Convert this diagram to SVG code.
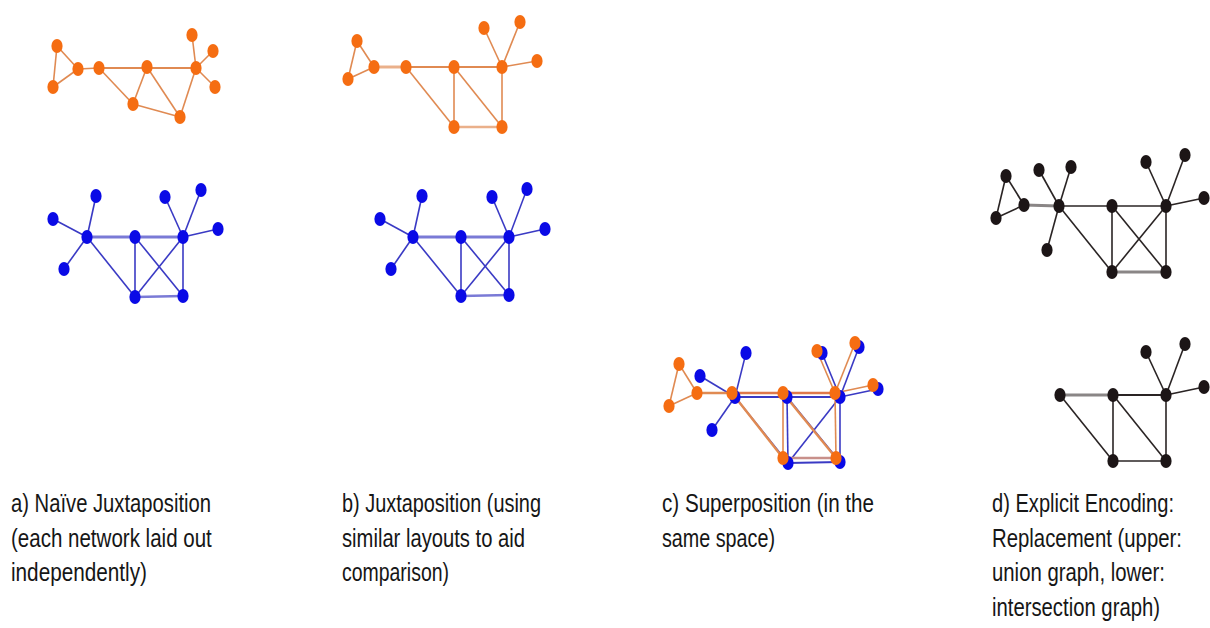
<svg xmlns="http://www.w3.org/2000/svg" width="1210" height="628" viewBox="0 0 1210 628">
<style>
.o{fill:#f56d12}
.b{fill:#0a0ae6}
.k{fill:#1c1516}
.eo{stroke:#e08a52;stroke-width:1.6;fill:none}
.eot{stroke:#eab08a;stroke-width:3;fill:none}
.eb{stroke:#3a3ac4;stroke-width:1.6;fill:none}
.ebt{stroke:#7a7ad6;stroke-width:3.2;fill:none}
.ek{stroke:#2a2424;stroke-width:1.6;fill:none}
.ekt{stroke:#8a8686;stroke-width:3;fill:none}
.lbl{font-family:"Liberation Sans",Arial,Helvetica,sans-serif;font-size:25.5px;fill:#161616}
</style>
<rect width="1210" height="628" fill="#ffffff"/>

<!-- connectors -->
<g id="connectors">
  <!-- panel a orange -->
  <line class="eo" x1="57" y1="46" x2="53" y2="87"/>
  <line class="eo" x1="57" y1="46" x2="78" y2="69"/>
  <line class="eo" x1="53" y1="87" x2="78" y2="69"/>
  <line class="eo" x1="78" y1="69" x2="99" y2="68"/>
  <line class="eo" x1="99" y1="68" x2="196" y2="68" style="stroke-width:2.2"/>
  <line class="eo" x1="99" y1="68" x2="133" y2="104"/>
  <line class="eo" x1="147" y1="67" x2="133" y2="104"/>
  <line class="eo" x1="147" y1="67" x2="180" y2="117"/>
  <line class="eo" x1="133" y1="104" x2="180" y2="117"/>
  <line class="eo" x1="196" y1="68" x2="180" y2="117"/>
  <line class="eo" x1="196" y1="68" x2="192" y2="35"/>
  <line class="eo" x1="196" y1="68" x2="213" y2="51"/>
  <line class="eo" x1="196" y1="68" x2="215" y2="87"/>
  <!-- panel a blue -->
  <line class="eb" x1="53" y1="219" x2="87" y2="237"/>
  <line class="eb" x1="96" y1="196" x2="87" y2="237"/>
  <line class="eb" x1="64" y1="269" x2="87" y2="237"/>
  <line class="ebt" x1="87" y1="237" x2="183" y2="237"/>
  <line class="eb" x1="87" y1="237" x2="135" y2="297"/>
  <line class="eb" x1="135" y1="237" x2="135" y2="297"/>
  <line class="eb" x1="135" y1="237" x2="183" y2="296"/>
  <line class="eb" x1="183" y1="237" x2="135" y2="297"/>
  <line class="eb" x1="183" y1="237" x2="183" y2="296"/>
  <line class="ebt" x1="135" y1="297" x2="183" y2="296" style="stroke-width:2.4"/>
  <line class="eb" x1="183" y1="237" x2="165" y2="197"/>
  <line class="eb" x1="183" y1="237" x2="201" y2="190"/>
  <line class="eb" x1="183" y1="237" x2="218" y2="229"/>
  <!-- panel b orange -->
  <line class="eo" x1="357" y1="41" x2="348" y2="79"/>
  <line class="eo" x1="357" y1="41" x2="374" y2="67"/>
  <line class="eo" x1="348" y1="79" x2="374" y2="67"/>
  <line class="eot" x1="374" y1="67" x2="406" y2="67"/>
  <line class="eo" x1="406" y1="67" x2="502" y2="67" style="stroke-width:2"/>
  <line class="eo" x1="406" y1="67" x2="454" y2="127"/>
  <line class="eo" x1="454" y1="67" x2="454" y2="127"/>
  <line class="eo" x1="454" y1="67" x2="502" y2="127"/>
  <line class="eo" x1="502" y1="67" x2="502" y2="127"/>
  <line class="eot" x1="454" y1="127" x2="502" y2="127" style="stroke-width:2.4"/>
  <line class="eo" x1="502" y1="67" x2="484" y2="28"/>
  <line class="eo" x1="502" y1="67" x2="520" y2="22"/>
  <line class="eo" x1="502" y1="67" x2="537" y2="61"/>
  <!-- panel b blue -->
  <line class="eb" x1="380" y1="219" x2="413" y2="237"/>
  <line class="eb" x1="422" y1="196" x2="413" y2="237"/>
  <line class="eb" x1="391" y1="269" x2="413" y2="237"/>
  <line class="ebt" x1="413" y1="237" x2="509" y2="237"/>
  <line class="eb" x1="413" y1="237" x2="461" y2="296"/>
  <line class="eb" x1="461" y1="237" x2="461" y2="296"/>
  <line class="eb" x1="461" y1="237" x2="509" y2="295"/>
  <line class="eb" x1="509" y1="237" x2="461" y2="296"/>
  <line class="eb" x1="509" y1="237" x2="509" y2="295"/>
  <line class="ebt" x1="461" y1="296" x2="509" y2="295" style="stroke-width:2.4"/>
  <line class="eb" x1="509" y1="237" x2="492" y2="197"/>
  <line class="eb" x1="509" y1="237" x2="527" y2="189"/>
  <line class="eb" x1="509" y1="237" x2="545" y2="229"/>
  <!-- panel c blue -->
  <line class="eb" x1="700" y1="376" x2="735" y2="397"/>
  <line class="eb" x1="746" y1="353" x2="735" y2="397"/>
  <line class="eb" x1="712" y1="430" x2="735" y2="397"/>
  <line class="eb" x1="735" y1="397" x2="840" y2="397" style="stroke-width:2.2"/>
  <line class="eb" x1="735" y1="397" x2="788" y2="463"/>
  <line class="eb" x1="787" y1="397" x2="788" y2="463"/>
  <line class="eb" x1="787" y1="397" x2="840" y2="462"/>
  <line class="eb" x1="840" y1="397" x2="788" y2="463"/>
  <line class="eb" x1="840" y1="397" x2="840" y2="462"/>
  <line class="eb" x1="788" y1="463" x2="840" y2="462" style="stroke-width:2.2"/>
  <line class="eb" x1="840" y1="397" x2="822" y2="353"/>
  <line class="eb" x1="840" y1="397" x2="859" y2="347"/>
  <line class="eb" x1="840" y1="397" x2="878" y2="389"/>
  <!-- panel c orange -->
  <line class="eo" x1="679" y1="364" x2="669" y2="406"/>
  <line class="eo" x1="679" y1="364" x2="697" y2="393"/>
  <line class="eo" x1="669" y1="406" x2="697" y2="393"/>
  <line class="eo" x1="697" y1="393" x2="732" y2="393" style="stroke-width:2.4"/>
  <line class="eo" x1="732" y1="393" x2="835" y2="393" style="stroke-width:2.4;stroke:#e0784a"/>
  <line class="eo" x1="732" y1="393" x2="783" y2="458" style="stroke-width:2.4"/>
  <line class="eo" x1="783" y1="393" x2="783" y2="458"/>
  <line class="eo" x1="783" y1="393" x2="836" y2="458" style="stroke-width:2.4"/>
  <line class="eo" x1="835" y1="393" x2="836" y2="458"/>
  <line class="eo" x1="783" y1="458" x2="836" y2="458" style="stroke:#c8908a;stroke-width:2.6"/>
  <line class="eo" x1="835" y1="393" x2="817" y2="351"/>
  <line class="eo" x1="835" y1="393" x2="855" y2="343"/>
  <line class="eo" x1="835" y1="393" x2="873" y2="385"/>
  <!-- panel d upper -->
  <line class="ek" x1="1006" y1="176" x2="996" y2="218"/>
  <line class="ek" x1="1006" y1="176" x2="1024" y2="205"/>
  <line class="ek" x1="996" y1="218" x2="1024" y2="205"/>
  <line class="ekt" x1="1024" y1="205" x2="1059" y2="206"/>
  <line class="ek" x1="1059" y1="206" x2="1039" y2="170"/>
  <line class="ek" x1="1059" y1="206" x2="1071" y2="167"/>
  <line class="ek" x1="1059" y1="206" x2="1047" y2="250"/>
  <line class="ek" x1="1059" y1="206" x2="1166" y2="206"/>
  <line class="ek" x1="1059" y1="206" x2="1112" y2="272"/>
  <line class="ek" x1="1112" y1="206" x2="1112" y2="272"/>
  <line class="ek" x1="1112" y1="206" x2="1166" y2="272"/>
  <line class="ek" x1="1166" y1="206" x2="1112" y2="272"/>
  <line class="ek" x1="1166" y1="206" x2="1166" y2="272"/>
  <line class="ekt" x1="1112" y1="272" x2="1166" y2="272"/>
  <line class="ek" x1="1166" y1="206" x2="1146" y2="162"/>
  <line class="ek" x1="1166" y1="206" x2="1185" y2="155"/>
  <line class="ek" x1="1166" y1="206" x2="1204" y2="198"/>
  <!-- panel d lower -->
  <line class="ekt" x1="1060" y1="395" x2="1113" y2="395"/>
  <line class="ek" x1="1113" y1="395" x2="1166" y2="395" style="stroke-width:2.2"/>
  <line class="ek" x1="1060" y1="395" x2="1113" y2="461"/>
  <line class="ek" x1="1113" y1="395" x2="1113" y2="461"/>
  <line class="ek" x1="1113" y1="395" x2="1166" y2="461"/>
  <line class="ek" x1="1166" y1="395" x2="1166" y2="461"/>
  <line class="ek" x1="1113" y1="461" x2="1166" y2="461"/>
  <line class="ek" x1="1166" y1="395" x2="1146" y2="352"/>
  <line class="ek" x1="1166" y1="395" x2="1185" y2="344"/>
  <line class="ek" x1="1166" y1="395" x2="1204" y2="387"/>
</g>

<!-- panel a orange nodes -->
<g id="a_o1"><ellipse class="o" cx="57" cy="46" rx="5.6" ry="7"/></g>
<g id="a_o2"><ellipse class="o" cx="53" cy="87" rx="5.6" ry="7"/></g>
<g id="a_o3"><ellipse class="o" cx="78" cy="69" rx="5.6" ry="7"/></g>
<g id="a_o4"><ellipse class="o" cx="99" cy="68" rx="5.6" ry="7"/></g>
<g id="a_o5"><ellipse class="o" cx="147" cy="67" rx="5.6" ry="7"/></g>
<g id="a_o6"><ellipse class="o" cx="196" cy="68" rx="5.6" ry="7"/></g>
<g id="a_o7"><ellipse class="o" cx="192" cy="35" rx="5.6" ry="7"/></g>
<g id="a_o8"><ellipse class="o" cx="213" cy="51" rx="5.6" ry="7"/></g>
<g id="a_o9"><ellipse class="o" cx="215" cy="87" rx="5.6" ry="7"/></g>
<g id="a_o10"><ellipse class="o" cx="133" cy="104" rx="5.6" ry="7"/></g>
<g id="a_o11"><ellipse class="o" cx="180" cy="117" rx="5.6" ry="7"/></g>

<!-- panel a blue nodes -->
<g id="a_b1"><ellipse class="b" cx="53" cy="219" rx="5.6" ry="7"/></g>
<g id="a_b2"><ellipse class="b" cx="96" cy="196" rx="5.6" ry="7"/></g>
<g id="a_b3"><ellipse class="b" cx="87" cy="237" rx="5.6" ry="7"/></g>
<g id="a_b4"><ellipse class="b" cx="64" cy="269" rx="5.6" ry="7"/></g>
<g id="a_b5"><ellipse class="b" cx="135" cy="237" rx="5.6" ry="7"/></g>
<g id="a_b6"><ellipse class="b" cx="183" cy="237" rx="5.6" ry="7"/></g>
<g id="a_b7"><ellipse class="b" cx="165" cy="197" rx="5.6" ry="7"/></g>
<g id="a_b8"><ellipse class="b" cx="201" cy="190" rx="5.6" ry="7"/></g>
<g id="a_b9"><ellipse class="b" cx="218" cy="229" rx="5.6" ry="7"/></g>
<g id="a_b10"><ellipse class="b" cx="135" cy="297" rx="5.6" ry="7"/></g>
<g id="a_b11"><ellipse class="b" cx="183" cy="296" rx="5.6" ry="7"/></g>

<!-- panel b orange nodes -->
<g id="b_o1"><ellipse class="o" cx="357" cy="41" rx="5.6" ry="7"/></g>
<g id="b_o2"><ellipse class="o" cx="348" cy="79" rx="5.6" ry="7"/></g>
<g id="b_o3"><ellipse class="o" cx="374" cy="67" rx="5.6" ry="7"/></g>
<g id="b_o4"><ellipse class="o" cx="406" cy="67" rx="5.6" ry="7"/></g>
<g id="b_o5"><ellipse class="o" cx="454" cy="67" rx="5.6" ry="7"/></g>
<g id="b_o6"><ellipse class="o" cx="502" cy="67" rx="5.6" ry="7"/></g>
<g id="b_o7"><ellipse class="o" cx="484" cy="28" rx="5.6" ry="7"/></g>
<g id="b_o8"><ellipse class="o" cx="520" cy="22" rx="5.6" ry="7"/></g>
<g id="b_o9"><ellipse class="o" cx="537" cy="61" rx="5.6" ry="7"/></g>
<g id="b_o10"><ellipse class="o" cx="454" cy="127" rx="5.6" ry="7"/></g>
<g id="b_o11"><ellipse class="o" cx="502" cy="127" rx="5.6" ry="7"/></g>

<!-- panel b blue nodes -->
<g id="b_b1"><ellipse class="b" cx="380" cy="219" rx="5.6" ry="7"/></g>
<g id="b_b2"><ellipse class="b" cx="422" cy="196" rx="5.6" ry="7"/></g>
<g id="b_b3"><ellipse class="b" cx="413" cy="237" rx="5.6" ry="7"/></g>
<g id="b_b4"><ellipse class="b" cx="391" cy="269" rx="5.6" ry="7"/></g>
<g id="b_b5"><ellipse class="b" cx="461" cy="237" rx="5.6" ry="7"/></g>
<g id="b_b6"><ellipse class="b" cx="509" cy="237" rx="5.6" ry="7"/></g>
<g id="b_b7"><ellipse class="b" cx="492" cy="197" rx="5.6" ry="7"/></g>
<g id="b_b8"><ellipse class="b" cx="527" cy="189" rx="5.6" ry="7"/></g>
<g id="b_b9"><ellipse class="b" cx="545" cy="229" rx="5.6" ry="7"/></g>
<g id="b_b10"><ellipse class="b" cx="461" cy="296" rx="5.6" ry="7"/></g>
<g id="b_b11"><ellipse class="b" cx="509" cy="295" rx="5.6" ry="7"/></g>

<!-- panel c blue nodes -->
<g id="c_b1"><ellipse class="b" cx="700" cy="376" rx="5.6" ry="7"/></g>
<g id="c_b2"><ellipse class="b" cx="746" cy="353" rx="5.6" ry="7"/></g>
<g id="c_b3"><ellipse class="b" cx="735" cy="397" rx="5.6" ry="7"/></g>
<g id="c_b4"><ellipse class="b" cx="712" cy="430" rx="5.6" ry="7"/></g>
<g id="c_b5"><ellipse class="b" cx="787" cy="397" rx="5.6" ry="7"/></g>
<g id="c_b6"><ellipse class="b" cx="840" cy="397" rx="5.6" ry="7"/></g>
<g id="c_b7"><ellipse class="b" cx="822" cy="353" rx="5.6" ry="7"/></g>
<g id="c_b8"><ellipse class="b" cx="859" cy="347" rx="5.6" ry="7"/></g>
<g id="c_b9"><ellipse class="b" cx="878" cy="389" rx="5.6" ry="7"/></g>
<g id="c_b10"><ellipse class="b" cx="788" cy="463" rx="5.6" ry="7"/></g>
<g id="c_b11"><ellipse class="b" cx="840" cy="462" rx="5.6" ry="7"/></g>

<!-- panel c orange nodes -->
<g id="c_o1"><ellipse class="o" cx="679" cy="364" rx="5.6" ry="7"/></g>
<g id="c_o2"><ellipse class="o" cx="669" cy="406" rx="5.6" ry="7"/></g>
<g id="c_o3"><ellipse class="o" cx="697" cy="393" rx="5.6" ry="7"/></g>
<g id="c_o4"><ellipse class="o" cx="732" cy="393" rx="5.6" ry="7"/></g>
<g id="c_o5"><ellipse class="o" cx="783" cy="393" rx="5.6" ry="7"/></g>
<g id="c_o6"><ellipse class="o" cx="835" cy="393" rx="5.6" ry="7"/></g>
<g id="c_o7"><ellipse class="o" cx="817" cy="351" rx="5.6" ry="7"/></g>
<g id="c_o8"><ellipse class="o" cx="855" cy="343" rx="5.6" ry="7"/></g>
<g id="c_o9"><ellipse class="o" cx="873" cy="385" rx="5.6" ry="7"/></g>
<g id="c_o10"><ellipse class="o" cx="783" cy="458" rx="5.6" ry="7"/></g>
<g id="c_o11"><ellipse class="o" cx="836" cy="458" rx="5.6" ry="7"/></g>

<!-- panel d upper nodes -->
<g id="d_u1"><ellipse class="k" cx="1006" cy="176" rx="5.6" ry="7"/></g>
<g id="d_u2"><ellipse class="k" cx="996" cy="218" rx="5.6" ry="7"/></g>
<g id="d_u3"><ellipse class="k" cx="1024" cy="205" rx="5.6" ry="7"/></g>
<g id="d_u4"><ellipse class="k" cx="1059" cy="206" rx="5.6" ry="7"/></g>
<g id="d_u5"><ellipse class="k" cx="1039" cy="170" rx="5.6" ry="7"/></g>
<g id="d_u6"><ellipse class="k" cx="1071" cy="167" rx="5.6" ry="7"/></g>
<g id="d_u7"><ellipse class="k" cx="1047" cy="250" rx="5.6" ry="7"/></g>
<g id="d_u8"><ellipse class="k" cx="1112" cy="206" rx="5.6" ry="7"/></g>
<g id="d_u9"><ellipse class="k" cx="1166" cy="206" rx="5.6" ry="7"/></g>
<g id="d_u10"><ellipse class="k" cx="1146" cy="162" rx="5.6" ry="7"/></g>
<g id="d_u11"><ellipse class="k" cx="1185" cy="155" rx="5.6" ry="7"/></g>
<g id="d_u12"><ellipse class="k" cx="1204" cy="198" rx="5.6" ry="7"/></g>
<g id="d_u13"><ellipse class="k" cx="1112" cy="272" rx="5.6" ry="7"/></g>
<g id="d_u14"><ellipse class="k" cx="1166" cy="272" rx="5.6" ry="7"/></g>

<!-- panel d lower nodes -->
<g id="d_l1"><ellipse class="k" cx="1060" cy="395" rx="5.6" ry="7"/></g>
<g id="d_l2"><ellipse class="k" cx="1113" cy="395" rx="5.6" ry="7"/></g>
<g id="d_l3"><ellipse class="k" cx="1166" cy="395" rx="5.6" ry="7"/></g>
<g id="d_l4"><ellipse class="k" cx="1146" cy="352" rx="5.6" ry="7"/></g>
<g id="d_l5"><ellipse class="k" cx="1185" cy="344" rx="5.6" ry="7"/></g>
<g id="d_l6"><ellipse class="k" cx="1204" cy="387" rx="5.6" ry="7"/></g>
<g id="d_l7"><ellipse class="k" cx="1113" cy="461" rx="5.6" ry="7"/></g>
<g id="d_l8"><ellipse class="k" cx="1166" cy="461" rx="5.6" ry="7"/></g>

<!-- captions (horizontally condensed font) -->
<g id="captions" class="lbl" transform="scale(0.8,1)">
  <g id="caption_a">
    <text x="13.75" y="512" textLength="250" lengthAdjust="spacingAndGlyphs">a) Naïve Juxtaposition</text>
    <text x="13.75" y="547" textLength="251" lengthAdjust="spacingAndGlyphs">(each network laid out</text>
    <text x="13.75" y="581" textLength="170" lengthAdjust="spacingAndGlyphs">independently)</text>
  </g>
  <g id="caption_b">
    <text x="427.5" y="512" textLength="248.75" lengthAdjust="spacingAndGlyphs">b) Juxtaposition (using</text>
    <text x="427.5" y="547" textLength="228.75" lengthAdjust="spacingAndGlyphs">similar layouts to aid</text>
    <text x="427.5" y="581" textLength="133.75" lengthAdjust="spacingAndGlyphs">comparison)</text>
  </g>
  <g id="caption_c">
    <text x="827.5" y="512" textLength="265" lengthAdjust="spacingAndGlyphs">c) Superposition (in the</text>
    <text x="827.5" y="547" textLength="141.25" lengthAdjust="spacingAndGlyphs">same space)</text>
  </g>
  <g id="caption_d">
    <text x="1240" y="512" textLength="227.5" lengthAdjust="spacingAndGlyphs">d) Explicit Encoding:</text>
    <text x="1240" y="547" textLength="237.5" lengthAdjust="spacingAndGlyphs">Replacement (upper:</text>
    <text x="1240" y="581" textLength="216.25" lengthAdjust="spacingAndGlyphs">union graph, lower:</text>
    <text x="1240" y="616" textLength="210" lengthAdjust="spacingAndGlyphs">intersection graph)</text>
  </g>
</g>
</svg>
